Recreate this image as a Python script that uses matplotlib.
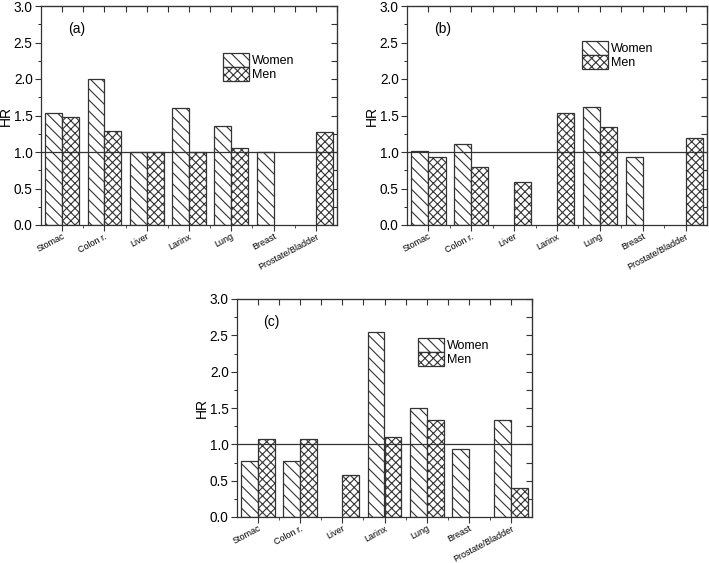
import numpy as np
import matplotlib.pyplot as plt
import matplotlib.transforms as mtransforms

plt.rcParams['font.family'] = ['Liberation Sans', 'DejaVu Sans']
plt.rcParams['hatch.linewidth'] = 0.8

sites = ['Stomac', 'Colon r.', 'Liver', 'Larinx', 'Lung', 'Breast', 'Prostate/Bladder']

# nan = no bar
women_a = [1.54, 2.00, 1.00, 1.60, 1.36, 1.00, np.nan]
men_a = [1.48, 1.29, 1.00, 1.00, 1.05, np.nan, 1.27]

women_b = [1.02, 1.11, np.nan, np.nan, 1.62, 0.93, np.nan]
men_b = [0.93, 0.79, 0.59, 1.53, 1.34, np.nan, 1.19]

women_c = [0.77, 0.77, np.nan, 2.54, 1.50, 0.93, 1.34]
men_c = [1.08, 1.08, 0.58, 1.10, 1.34, np.nan, 0.40]

panels = [
    ('(a)', women_a, men_a, [41/709, 1-225/563, 296/709, 219/563], (0.615, 0.785)),
    ('(b)', women_b, men_b, [407/709, 1-225/563, 300/709, 219/563], (0.583, 0.84)),
    ('(c)', women_c, men_c, [237/709, 1-517/563, 295/709, 218/563], (0.614, 0.82)),
]

fig = plt.figure(figsize=(7.09, 5.63), dpi=100)
x = np.arange(len(sites))
w = 0.4
edge = '#333333'
shift = mtransforms.ScaledTranslation(6/72, 6/72, fig.dpi_scale_trans)

for label, women, men, rect, legpos in panels:
    ax = fig.add_axes(rect)
    ax.bar(x - w/2, women, w, color='white', edgecolor=edge, hatch='\\\\\\', lw=0.9, label='Women')
    ax.bar(x + w/2, men, w, color='white', edgecolor=edge, hatch='xxxx', lw=0.9, label='Men')
    ax.axhline(1.0, color='#333333', lw=0.9)
    ax.set_xlim(-0.5, 6.5)
    ax.set_ylim(0, 3.0)
    ax.set_yticks(np.arange(0, 3.01, 0.5))
    ax.set_yticks(np.arange(0, 3.01, 0.25), minor=True)
    ax.set_xticks(x)
    ax.set_xticks(x[:-1] + 0.5, minor=True)
    ax.set_xticklabels(sites, rotation=28, ha='right', va='top', rotation_mode='anchor', fontsize=6.5)
    for t in ax.get_xticklabels():
        t.set_transform(t.get_transform() + shift)
    ax.tick_params(axis='y', labelsize=9.8, direction='out', length=4, pad=2, color='#333333')
    ax.tick_params(axis='y', which='minor', direction='out', length=2.5)
    ax.tick_params(axis='x', which='both', direction='out', length=4, pad=1, color='#333333')
    ax.tick_params(axis='x', which='minor', length=2.5)
    ax.set_ylabel('HR', fontsize=10)
    ax.yaxis.set_label_coords(-28/(rect[2]*709), 0.5)
    for s in ax.spines.values():
        s.set_color('#333333')
        s.set_linewidth(0.9)

    top = ax.secondary_xaxis('top')
    top.set_xticks(np.arange(0, 6.6, 0.5))
    top.tick_params(direction='in', length=4, labeltop=False, color='#333333')
    right = ax.secondary_yaxis('right')
    right.set_yticks(np.arange(0, 3.01, 0.25))
    right.tick_params(direction='in', length=4, labelright=False, color='#333333')

    ax.text(0.09, 0.895, label, transform=ax.transAxes, fontsize=10, va='center')
    ax.legend(loc='upper left', bbox_to_anchor=legpos, frameon=False, fontsize=9,
              handlelength=2.1, handleheight=1.3, labelspacing=0.0,
              handletextpad=0.2, borderpad=0, borderaxespad=0)

fig.savefig('out.png', dpi=100)
